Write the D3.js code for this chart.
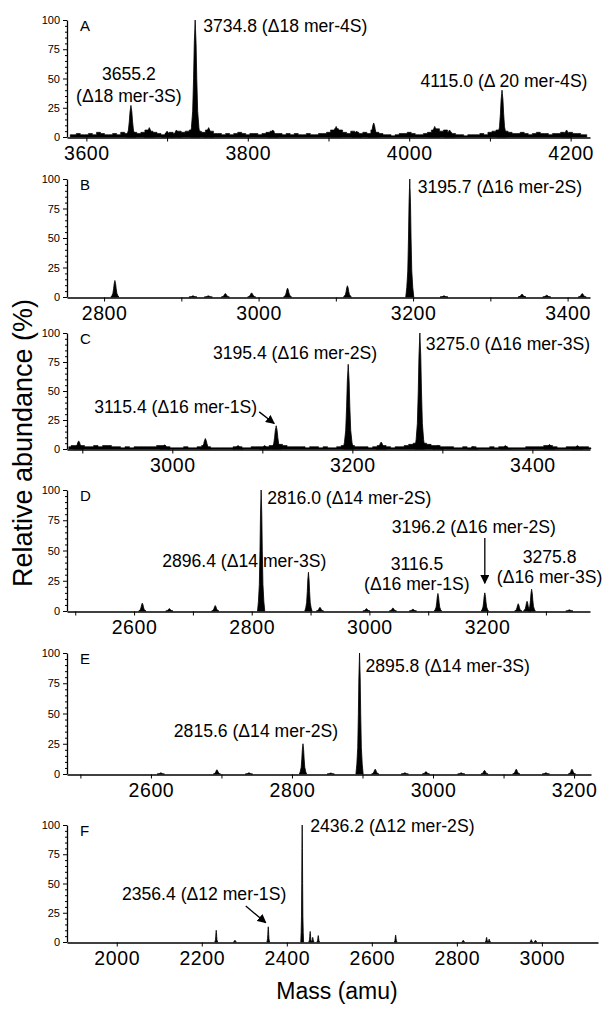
<!DOCTYPE html>
<html>
<head>
<meta charset="utf-8">
<script src="https://cdn.jsdelivr.net/npm/d3@7"></script>
<style>
body{margin:0;background:#fff;}
svg{display:block;font-family:"Liberation Sans",Arial,Helvetica,sans-serif;}
</style>
</head>
<body>
<div id="chart"></div>
<script>
//panel letters
const panelIds = ["A","B","C","D","E","F"];

//mass ranges shown on each x axis
const massDomains = [[3576,4224],[2752,3429],[2883,3464],[2486,3375],[2481,3224],[1883,3132]];

//x ticks (amu) and which of them carry a label
const xTicks = [
  [3600,3700,3800,3900,4000,4100,4200],
  [2800,2900,3000,3100,3200,3300,3400],
  [2900,3000,3100,3200,3300,3400],
  [2500,2600,2700,2800,2900,3000,3100,3200,3300],
  [2500,2600,2700,2800,2900,3000,3100,3200],
  [2000,2200,2400,2600,2800,3000]
];
const xTickLabels = [
  [3600,3800,4000,4200],
  [2800,3000,3200,3400],
  [3000,3200,3400],
  [2600,2800,3000,3200],
  [2600,2800,3000,3200],
  [2000,2200,2400,2600,2800,3000]
];
const yTicks = [0,25,50,75,100];
const yMinorTicks = [5,10,15,20,30,35,40,45,55,60,65,70,80,85,90,95];

//peaks: [mass, relative abundance %]
const peaksA = [[3655.2,27],[3678,8],[3700,5],[3711.5,6],[3734.8,100],[3751.5,8],[3831,6],
  [3909.5,9],[3935,5],[3956,12],[4031.6,9],[4050,6],[4115.0,40],[4195,6]];
const peaksB = [[2814,14],[2915,1],[2935,1],[2957,3],[2991,3.5],[3037.5,7.5],[3115,9.5],
  [3195.7,100],[3240,1],[3341,2.5],[3373,1.5],[3419,3]];
const peaksC = [[2896,7],[2991.5,3.5],[3036.7,9],[3073,3],[3102.6,3],[3115.4,20],[3195.4,73],
  [3232,6],[3275.0,100],[3295,3],[3334,2],[3370,3],[3419,4],[3450,3]];
const peaksD = [[2614,6.5],[2660,2],[2738,4.5],[2816.0,100],[2896.4,32],[2916,3],[2995,2],
  [3040,2.5],[3074,1.5],[3116.5,14.5],[3196.2,15],[3253,6],[3268,8],[3275.8,18],[3340,1]];
const peaksE = [[2614,1],[2693.6,3.5],[2739,1],[2815.6,25],[2855,0.8],[2895.8,100],[2918,4],
  [2960,1],[2990,2],[3040,1],[3073,3],[3118,4],[3160,1],[3197,4]];
const peaksF = [[2234,10],[2278,1.5],[2356.4,13],[2436.2,100],[2455,9],[2461,4],[2474,5.5],
  [2656,6],[2815,1.5],[2870,4],[2876,2.5],[2975,2],[2985,1.5]];

//baseline noise, one reading every 5 amu from the given start mass
const noiseStartA = 3580;
const noiseA = [2,2,3,2,2,3,2,4,3,2,2,3,2,4,3,3,4,3,4,6,5,4,3,2,3,4,3,5,4,5,6,6,5,4,6,5,3,3,2,3,
  2,3,4,3,2,3,3,2,3,4,5,3,3,2,3,2,3,2,2,3,2,2,3,3,4,6,7,6,4,3,5,4,3,4,3,6,4,3,2,2,
  1,2,3,3,4,3,2,2,3,4,6,7,5,6,4,3,2,2,1,2,2,2,3,2,4,5,6,7,5,4,3,3,4,3,2,3,4,3,3,2,
  3,3,4,3,4,3,3,2,2];
const noiseStartC = 2885;
const noiseC = [2,3,3,3,2,2,3,2,3,3,2,2,1,2,1,2,2,2,2,2,3,3,2,1,1,1,2,1,1,2,3,2,1,1,1,1,1,2,2,1,
  1,2,2,2,2,3,4,4,3,2,2,2,2,1,2,2,1,2,1,1,2,3,3,3,2,2,2,1,2,3,3,2,1,2,2,3,4,5,5,5,
  4,3,3,2,2,2,1,1,2,1,2,1,1,1,2,1,2,2,1,1,1,1,2,2,2,2,3,3,2,1,1,2,2,2,2,2,1];

//annotation texts
const labelsA = [["3734.8 (\u039418 mer-4S)"],["3655.2","(\u039418 mer-3S)"],["4115.0 (\u0394 20 mer-4S)"]];
const labelsB = [["3195.7 (\u039416 mer-2S)"]];
const labelsC = [["3275.0 (\u039416 mer-3S)"],["3195.4 (\u039416 mer-2S)"],["3115.4 (\u039416 mer-1S)"]];
const labelsD = [["2816.0 (\u039414 mer-2S)"],["2896.4 (\u039414 mer-3S)"],["3196.2 (\u039416 mer-2S)"],
  ["3116.5","(\u039416 mer-1S)"],["3275.8","(\u039416 mer-3S)"]];
const labelsE = [["2895.8 (\u039414 mer-3S)"],["2815.6 (\u039414 mer-2S)"]];
const labelsF = [["2436.2 (\u039412 mer-2S)"],["2356.4 (\u039412 mer-1S)"]];

const yTitle = "Relative abundance (%)";
const xTitle = "Mass (amu)";

// ---- layout ----
const W = 612, H = 1014;
const axisX = 67;
const axisRight = [590,590,590,590,591,598];
const top100 = [20,179,333,490,653,825];
const base0 = [137,297,449,611,774,942];
const halfBase = [5,4,5,3.6,3.6,1.4]; //peak half width at foot, px

//label placement: mass anchor, px shift, abundance of the first baseline, anchor, line gap
const labelPos = {
  A:[{m:3734.8,dx:8,v:90,a:"start"},{m:3655.2,dx:-2,v:48.7,a:"middle",gap:21.7},{m:4115.0,dx:2,v:42.7,a:"middle"}],
  B:[{m:3195.7,dx:8,v:88,a:"start"}],
  C:[{m:3275.0,dx:6,v:85.3,a:"start"},{m:3195.4,dx:29,v:77.3,a:"end"},{m:3115.4,dx:-19,v:30.8,a:"end"}],
  D:[{m:2816.0,dx:6,v:88.4,a:"start"},{m:2896.4,dx:18,v:36.6,a:"end"},{m:3196.2,dx:-11,v:64.2,a:"middle"},
     {m:3116.5,dx:-21,v:33.9,a:"middle",gap:20},{m:3275.8,dx:18,v:39.4,a:"middle",gap:20}],
  E:[{m:2895.8,dx:6,v:84.5,a:"start"},{m:2815.6,dx:-47,v:30.6,a:"middle"}],
  F:[{m:2436.2,dx:8,v:94,a:"start"},{m:2356.4,dx:18,v:35.9,a:"end"}]
};
//arrows: mass anchor, start/end px shift and abundance
const arrows = {
  C:[{m:3115.4,dx0:-17,v0:32,dx1:-2,v1:22}],
  D:[{m:3196.2,dx0:0,v0:60.3,dx1:0,v1:23}],
  F:[{m:2356.4,dx0:-22.5,v0:30.8,dx1:-2.5,v1:16.5}]
};

const peaks = [peaksA,peaksB,peaksC,peaksD,peaksE,peaksF];
const labels = [labelsA,labelsB,labelsC,labelsD,labelsE,labelsF];
const noise = {A:{start:noiseStartA,vals:noiseA}, C:{start:noiseStartC,vals:noiseC}};

const svg = d3.select("#chart").append("svg")
  .attr("width", W).attr("height", H);

svg.append("defs").append("marker")
  .attr("id","head")
  .attr("viewBox","0 0 10 10")
  .attr("refX",9).attr("refY",5)
  .attr("markerWidth",9).attr("markerHeight",9)
  .attr("markerUnits","userSpaceOnUse")
  .attr("orient","auto")
  .append("path").attr("d","M0,0L10,5L0,10z").attr("fill","#000");

//profile of one peak: [fraction of half width, fraction of height]
const shape = [[-1,0],[-0.75,0.08],[-0.5,0.22],[-0.32,0.5],[-0.18,0.8],[-0.06,0.93],[0,1],
  [0.06,0.93],[0.18,0.8],[0.32,0.5],[0.5,0.22],[0.75,0.08],[1,0]];

panelIds.forEach((id,i)=>{
  const x = d3.scaleLinear().domain(massDomains[i]).range([axisX, axisRight[i]]);
  const y = d3.scaleLinear().domain([0,100]).range([base0[i], top100[i]]);
  const g = svg.append("g").attr("class","panel-"+id);

  //annotation text first so the spectrum lines sit on top of it
  const lg = g.append("g").attr("font-size","17.6px").attr("fill","#000");
  labels[i].forEach((lines,k)=>{
    const p = labelPos[id][k];
    const t = lg.append("text")
      .attr("text-anchor", p.a)
      .attr("x", x(p.m)+p.dx)
      .attr("y", y(p.v));
    lines.forEach((s,j)=>{
      t.append("tspan").attr("x", x(p.m)+p.dx).attr("dy", j===0?0:(p.gap||20)).text(s);
    });
  });

  //noise floor
  if(noise[id]){
    const n = noise[id];
    const area = d3.area()
      .curve(d3.curveStep)
      .x((d,k)=>x(n.start+k*5))
      .y0(y(0))
      .y1(d=>y(d));
    g.append("path").datum(n.vals)
      .attr("d", area)
      .attr("fill","#000").attr("stroke","#000").attr("stroke-width",0.6);
  }

  //peaks
  const peakArea = d3.area().x(d=>d[0]).y0(y(0)).y1(d=>d[1]);
  g.selectAll("path.peak")
    .data(peaks[i])
    .enter().append("path")
    .attr("class","peak")
    .attr("d", d=>peakArea(shape.map(s=>[x(d[0])+s[0]*halfBase[i], y(s[1]*d[1])])))
    .attr("fill","#000").attr("stroke","#000").attr("stroke-width",0.8);

  //arrows
  (arrows[id]||[]).forEach(a=>{
    g.append("line")
      .attr("x1", x(a.m)+a.dx0).attr("y1", y(a.v0))
      .attr("x2", x(a.m)+a.dx1).attr("y2", y(a.v1))
      .attr("stroke","#000").attr("stroke-width",1.3)
      .attr("marker-end","url(#head)");
  });

  //x axis
  const xa = g.append("g")
    .attr("transform",`translate(0,${base0[i]+0.5})`)
    .call(d3.axisBottom(x).tickValues(xTicks[i]).tickSize(4).tickSizeOuter(0).tickPadding(5)
      .tickFormat(d=>xTickLabels[i].includes(d)?d:""));
  xa.selectAll("text").attr("font-size","19.5px").attr("font-family","Liberation Sans, Arial, sans-serif").attr("letter-spacing","0.6px");
  xa.select(".domain").attr("stroke-width",1.3);

  //y axis with minor ticks
  g.append("g")
    .attr("transform",`translate(${axisX},0)`)
    .call(d3.axisLeft(y).tickValues(yMinorTicks).tickSize(2).tickFormat(""))
    .select(".domain").remove();
  const ya = g.append("g")
    .attr("transform",`translate(${axisX},0)`)
    .call(d3.axisLeft(y).tickValues(yTicks).tickSize(4).tickSizeOuter(0).tickPadding(3));
  ya.selectAll("text").attr("font-size","11px").attr("font-family","Liberation Sans, Arial, sans-serif");
  ya.select(".domain").attr("stroke-width",1.3);

  //panel letter
  g.append("text")
    .attr("x", axisX+13).attr("y", y(100)+11)
    .attr("font-size","15px")
    .text(id);
});

//axis titles
svg.append("text")
  .attr("transform","translate(32,443) rotate(-90)")
  .attr("text-anchor","middle")
  .attr("font-size","27px")
  .text(yTitle);

svg.append("text")
  .attr("x",337).attr("y",999)
  .attr("text-anchor","middle")
  .attr("font-size","23px")
  .text(xTitle);
</script>
</body>
</html>
